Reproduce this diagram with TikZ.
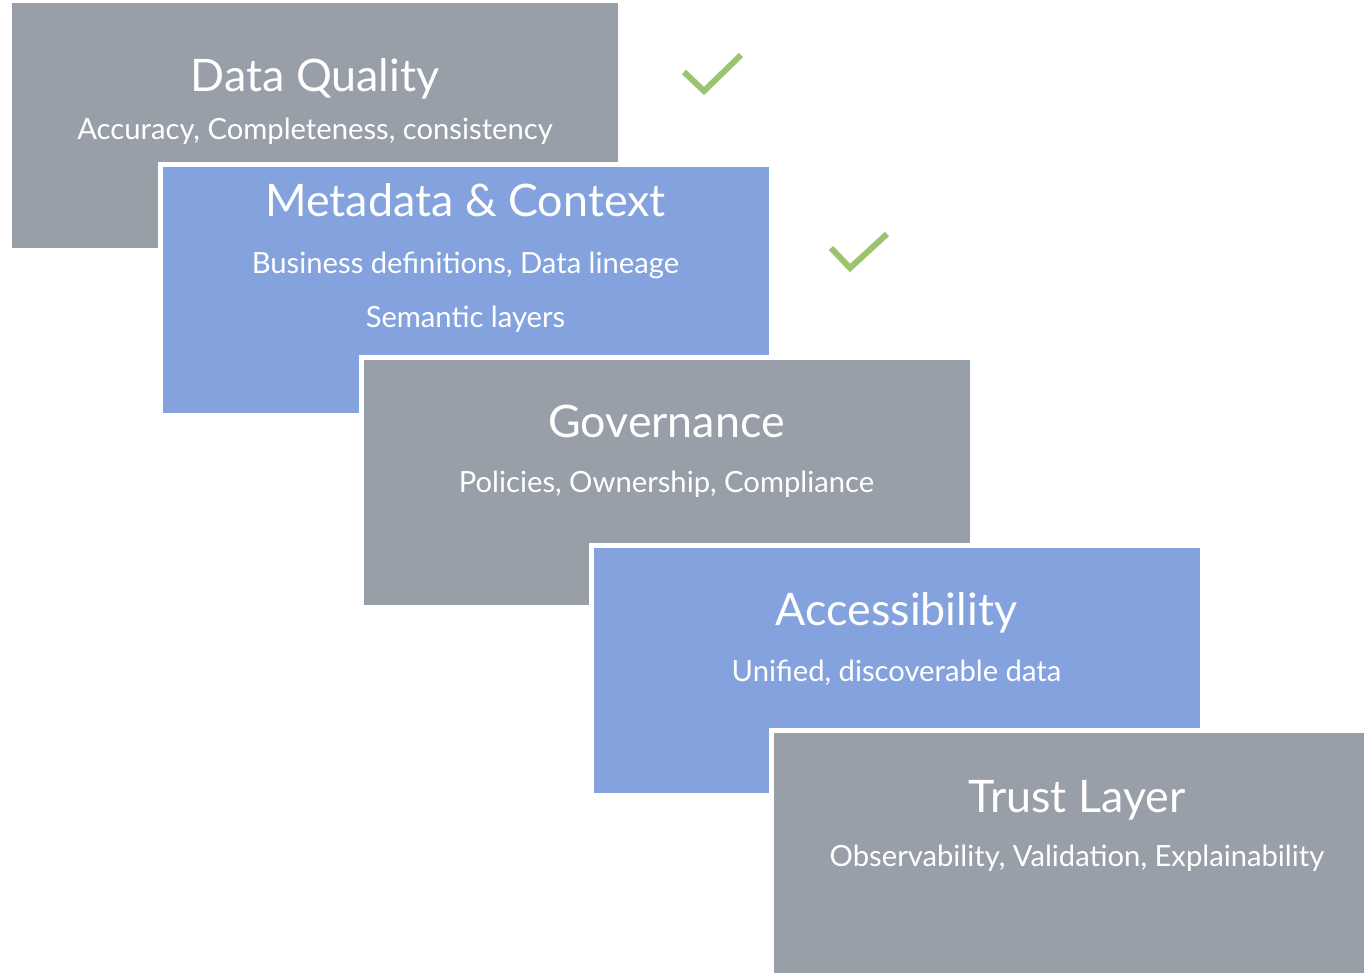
\documentclass[tikz,border=0pt]{standalone}
\usepackage{fontspec}
\setmainfont{Lato}
\usepackage{tikz}
\definecolor{layergray}{RGB}{152,159,169}
\definecolor{layerblue}{RGB}{132,163,222}
\definecolor{checkgreen}{RGB}{155,196,110}
\tikzset{
	layer/.style={rectangle,fill=#1,draw=white,line width=2.5pt,minimum width=305.5pt,minimum height=125pt,inner sep=0pt},
	bigtitle/.style={text=white,anchor=base,font=\fontsize{22.4}{26}\selectfont},
	subline/.style={text=white,anchor=base,font=\fontsize{14.6}{17}\selectfont},
	checkmark/.style={draw=checkgreen,line width=3pt}
}

\begin{document}
\begin{tikzpicture}[x=0.5pt,y=-0.5pt]
	\useasboundingbox (0,0) rectangle (1364,973);
	\clip (0,0) rectangle (1364,973);

	% stacked layers, each one on top of the previous
	\node [layer=layergray] (quality) at (315,125.5) {};
	\node [layer=layerblue] (metadata) at (465.5,290) {};
	\node [layer=layergray] (governance) at (666.5,482.5) {};
	\node [layer=layerblue] (access) at (896.5,670) {};
	\node [layer=layergray] (trust) at (1076.5,855.5) {};

	\node [bigtitle] (quality-t) at (315,92) {Data Quality};
	\node [subline] (quality-s) at (315,140) {Accuracy, Completeness, consistency};

	\node [bigtitle] (metadata-t) at (465.5,217) {Metadata \& Context};
	\node [subline] (metadata-s1) at (465.5,273) {Business definitions, Data lineage};
	\node [subline] (metadata-s2) at (465.5,327) {Semantic layers};

	\node [bigtitle] (governance-t) at (666.5,437) {Governance};
	\node [subline] (governance-s) at (666.5,492) {Policies, Ownership, Compliance};

	\node [bigtitle] (access-t) at (896.5,625) {Accessibility};
	\node [subline] (access-s) at (896.5,681) {Unified, discoverable data};

	\node [bigtitle] (trust-t) at (1077,812) {Trust Layer};
	\node [subline] (trust-s) at (1077,866) {Observability, Validation, Explainability};

	% ticks
	\draw [checkmark] (684,72) -- (704,91) -- (741,55);
	\draw [checkmark] (831,248) -- (850,268) -- (887,234);
\end{tikzpicture}
\end{document}
